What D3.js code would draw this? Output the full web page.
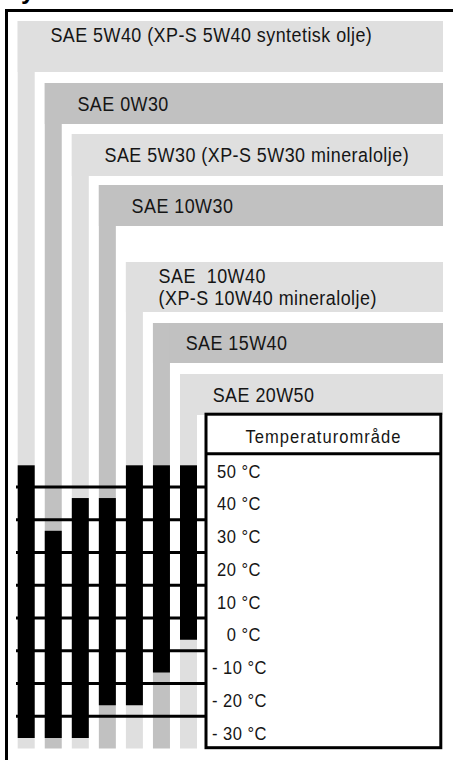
<!DOCTYPE html>
<html>
<head>
<meta charset="utf-8">
<script src="https://cdn.jsdelivr.net/npm/d3@7"></script>
<style>
  html, body { margin: 0; padding: 0; background: #fff; }
  svg { display: block; }
  text { font-family: "Liberation Sans", Arial, Helvetica, sans-serif; fill: #151515; white-space: pre; }
</style>
</head>
<body>
<svg id="chart" width="453" height="760"></svg>
<script>
// Oil grades and their usable ambient temperature ranges (°C)
const oils = ["SAE 5W40", "SAE 0W30", "SAE 5W30", "SAE 10W30", "SAE 10W40", "SAE 15W40", "SAE 20W50"];
const oilLabels = [
  ["SAE 5W40 (XP-S 5W40 syntetisk olje)"],
  ["SAE 0W30"],
  ["SAE 5W30 (XP-S 5W30 mineralolje)"],
  ["SAE 10W30"],
  ["SAE  10W40", "(XP-S 10W40 mineralolje)"],
  ["SAE 15W40"],
  ["SAE 20W50"]
];
const tempMin = [-30, -30, -30, -20, -20, -10, 0];
const tempMax = [50, 30, 40, 40, 50, 50, 50];

// Temperature scale rows
const tempTicks = [50, 40, 30, 20, 10, 0, -10, -20, -30];
const tickLabels = ["50 °C", "40 °C", "30 °C", "20 °C", "10 °C", "0 °C", "- 10 °C", "- 20 °C", "- 30 °C"];
const headerLabel = "Temperaturområde";

// Layout of the stepped label bands
const bandTop = [21, 83, 134, 185, 262, 323, 374];
const bandBottom = [72, 124, 176, 226, 312, 363, 415];
const bandRight = 443;
const stripBottom = 748.5;
const lightGrey = "#dfdfdf";
const midGrey = "#c1c1c1";
const condense = 0.92; // narrow the type horizontally

const svg = d3.select("#chart");

const x = d3.scaleBand()
  .domain(oils)
  .range([17.7, 197])
  .paddingInner(0.3716)
  .paddingOuter(0);

const y = d3.scaleLinear()
  .domain([50, -30])
  .range([471, 733]);

const table = { x: 206, y: 414.2, w: 234.8, h: 333.5, headerLine: 453.7 };

function place(px, py) {
  return `translate(${px},${py}) scale(${condense},1)`;
}

// Fragment of the heading above the frame
svg.append("text")
  .attr("x", 21)
  .attr("y", -1.5)
  .style("font-size", "25px")
  .style("font-weight", "bold")
  .style("fill", "#000")
  .text("y");

// Outer frame (top and left edges)
svg.append("path")
  .attr("d", "M6.5,760 L6.5,10.5 L453,10.5")
  .attr("fill", "none")
  .attr("stroke", "#000")
  .attr("stroke-width", 3);

// L-shaped bands: horizontal label strip plus a vertical strip down to the scale
const bands = svg.append("g").selectAll("g")
  .data(oils)
  .join("g");

bands.append("rect")
  .attr("x", d => x(d))
  .attr("y", (d, i) => bandTop[i])
  .attr("width", d => bandRight - x(d))
  .attr("height", (d, i) => bandBottom[i] - bandTop[i])
  .attr("fill", (d, i) => i % 2 === 0 ? lightGrey : midGrey);

bands.append("rect")
  .attr("x", d => x(d))
  .attr("y", (d, i) => bandTop[i])
  .attr("width", x.bandwidth())
  .attr("height", (d, i) => stripBottom - bandTop[i])
  .attr("fill", (d, i) => i % 2 === 0 ? lightGrey : midGrey);

bands.each(function (d, i) {
  const g = d3.select(this);
  const lines = oilLabels[i];
  const h = bandBottom[i] - bandTop[i];
  const tall = h > 45;
  const firstBase = tall ? bandTop[i] + 21 : bandTop[i] + h / 2 + 7;
  lines.forEach((line, k) => {
    g.append("text")
      .attr("transform", place(x(d) + 32.7, firstBase + k * 21.7))
      .style("font-size", "19.5px")
      .style("letter-spacing", "0.5px")
      .text(line);
  });
});

// Temperature range bars
svg.append("g").selectAll("rect")
  .data(oils)
  .join("rect")
  .attr("x", d => x(d))
  .attr("y", (d, i) => y(tempMax[i]) - 5.7)
  .attr("width", x.bandwidth())
  .attr("height", (d, i) => (y(tempMin[i]) + 5) - (y(tempMax[i]) - 5.7))
  .attr("fill", "#000");

// Row separators between the temperature steps
const mids = d3.pairs(tempTicks, (a, b) => (a + b) / 2);
svg.append("g").selectAll("line")
  .data(mids)
  .join("line")
  .attr("x1", 16)
  .attr("x2", table.x)
  .attr("y1", d => y(d) - 0.5)
  .attr("y2", d => y(d) - 0.5)
  .attr("stroke", "#000")
  .attr("stroke-width", 3);

// Temperature table
svg.append("rect")
  .attr("x", table.x)
  .attr("y", table.y)
  .attr("width", table.w)
  .attr("height", table.h)
  .attr("fill", "#fff")
  .attr("stroke", "#000")
  .attr("stroke-width", 3);

svg.append("line")
  .attr("x1", table.x)
  .attr("x2", table.x + table.w)
  .attr("y1", table.headerLine)
  .attr("y2", table.headerLine)
  .attr("stroke", "#000")
  .attr("stroke-width", 3);

svg.append("text")
  .attr("transform", place(table.x + table.w / 2, 442.5))
  .attr("text-anchor", "middle")
  .style("font-size", "18px")
  .style("letter-spacing", "1.1px")
  .text(headerLabel);

svg.append("g").selectAll("text")
  .data(tempTicks)
  .join("text")
  .attr("transform", d => place(d < 0 ? 267 : 261, y(d) + 6.5))
  .attr("text-anchor", "end")
  .style("font-size", "18px")
  .style("letter-spacing", "0.5px")
  .text((d, i) => tickLabels[i]);
</script>
</body>
</html>
